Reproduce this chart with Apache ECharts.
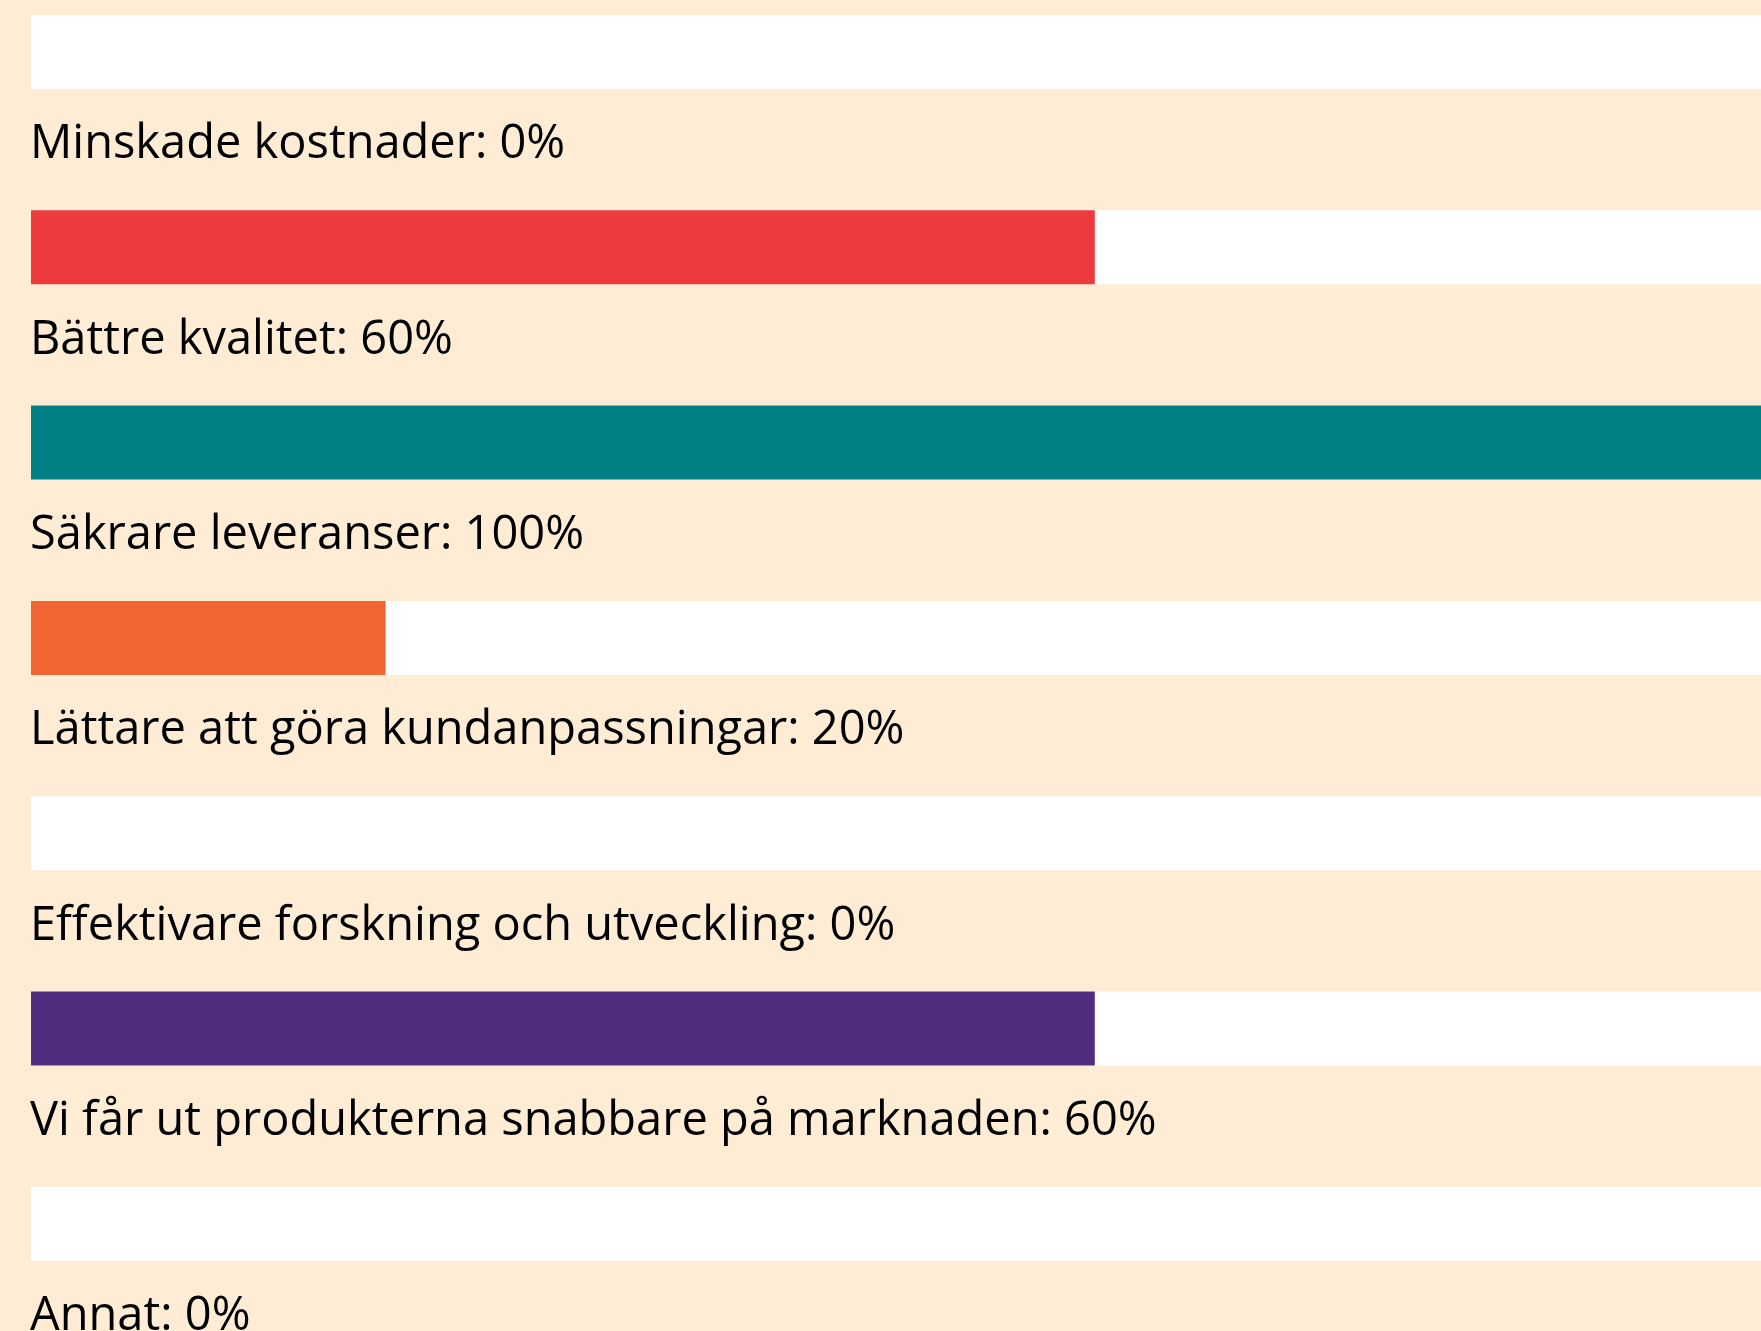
<!DOCTYPE html>
<html>
<head>
<meta charset="utf-8">
<script src="https://cdn.jsdelivr.net/npm/echarts@6/dist/echarts.min.js"></script>
<style>
  html, body { margin: 0; padding: 0; background: #feecd4; }
  #chart { width: 1761px; height: 1331px; }
</style>
</head>
<body>
<div id="chart"></div>
<script>
// categories and values (percent), top to bottom
var categories = [
  'Minskade kostnader',
  'Bättre kvalitet',
  'Säkrare leveranser',
  'Lättare att göra kundanpassningar',
  'Effektivare forskning och utveckling',
  'Vi får ut produkterna snabbare på marknaden',
  'Annat'
]
var values = [0, 60, 100, 20, 0, 60, 0]
var barColors = ['#ed3a3e', '#ed3a3e', '#008085', '#f26633', '#ffffff', '#502d7f', '#ffffff']

var chart = echarts.init(document.getElementById('chart'))

chart.setOption({
  backgroundColor: '#feecd4',
  animation: false,
  grid: {
    left: 31,
    right: -43,
    top: -45.6,
    height: 1367,
    outerBoundsMode: 'none'
  },
  xAxis: {
    type: 'value',
    min: 0,
    max: 100,
    show: false
  },
  yAxis: {
    type: 'category',
    data: categories,
    inverse: true,
    show: false
  },
  series: [{
    type: 'bar',
    barWidth: 74,
    showBackground: true,
    backgroundStyle: { color: '#ffffff' },
    data: values.map(function (v, i) {
      return { value: v, itemStyle: { color: barColors[i] } }
    }),
    label: {
      show: true,
      position: 'insideLeft',
      distance: 0,
      offset: [-1, 93],
      color: '#000',
      fontFamily: 'Open Sans',
      fontSize: 47,
      formatter: function (p) {
        return p.name + ': ' + p.value + '%'
      }
    }
  }]
})
</script>
</body>
</html>
